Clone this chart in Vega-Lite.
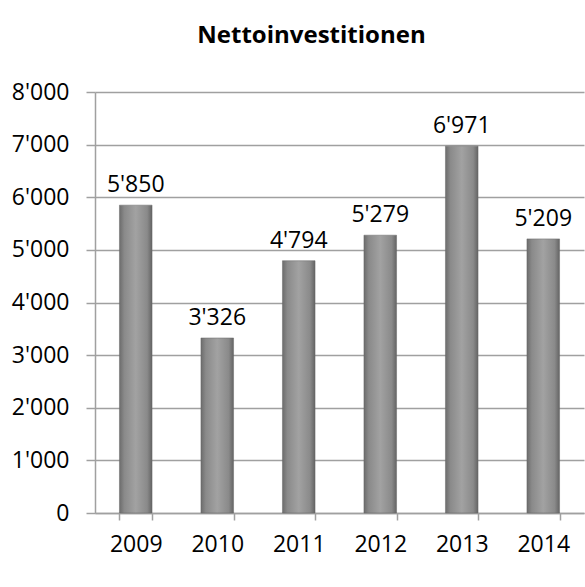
{
  "$schema": "https://vega.github.io/schema/vega-lite/v6.json",
  "autosize": "none",
  "width": 489,
  "height": 421,
  "padding": {"left": 95, "top": 92, "right": 1, "bottom": 74},
  "background": "white",
  "title": {
    "text": "Nettoinvestitionen",
    "font": "Open Sans",
    "fontSize": 24,
    "fontWeight": "bold",
    "color": "#000000",
    "anchor": "middle",
    "frame": "group",
    "baseline": "alphabetic",
    "offset": 14,
    "dx": -28
  },
  "data": {
    "values": [
      {"year": "2009", "value": 5850},
      {"year": "2010", "value": 3326},
      {"year": "2011", "value": 4794},
      {"year": "2012", "value": 5279},
      {"year": "2013", "value": 6971},
      {"year": "2014", "value": 5209}
    ]
  },
  "encoding": {
    "x": {
      "field": "year",
      "type": "nominal",
      "scale": {"paddingInner": 0.6, "paddingOuter": 0.3},
      "axis": {
        "title": null,
        "labelAngle": 0,
        "tickBand": "extent",
        "tickSize": 7,
        "labelPadding": 13,
        "labelFont": "Open Sans",
        "labelFontSize": 23,
        "labelColor": "#000000",
        "domainColor": "#a0a0a0",
        "domainWidth": 1.5,
        "tickColor": "#a0a0a0",
        "tickWidth": 1.5
      }
    },
    "y": {
      "field": "value",
      "type": "quantitative",
      "scale": {"domain": [0, 8000]},
      "axis": {
        "title": null,
        "values": [0, 1000, 2000, 3000, 4000, 5000, 6000, 7000, 8000],
        "format": ",d",
        "tickSize": 9,
        "labelPadding": 17,
        "labelFont": "Open Sans",
        "labelFontSize": 23,
        "labelColor": "#000000",
        "domainColor": "#a0a0a0",
        "domainWidth": 1.5,
        "tickColor": "#a0a0a0",
        "tickWidth": 1.5,
        "grid": true,
        "gridColor": "#a0a0a0",
        "gridWidth": 1.5
      }
    }
  },
  "layer": [
    {
      "mark": {
        "type": "bar",
        "color": {
          "gradient": "linear",
          "x1": 0, "x2": 1, "y1": 0, "y2": 0,
          "stops": [
            {"offset": 0, "color": "#6c6c6c"},
            {"offset": 0.15, "color": "#8a8a8a"},
            {"offset": 0.5, "color": "#a2a2a2"},
            {"offset": 0.85, "color": "#8a8a8a"},
            {"offset": 1, "color": "#646464"}
          ]
        },
        "stroke": "#666666",
        "strokeWidth": 0.5
      }
    },
    {
      "mark": {
        "type": "text",
        "baseline": "alphabetic",
        "dy": -13,
        "font": "Open Sans",
        "fontSize": 23,
        "color": "#000000"
      },
      "encoding": {
        "text": {"field": "value", "type": "quantitative", "format": ",d"}
      }
    }
  ],
  "config": {
    "locale": {
      "number": {
        "decimal": ".",
        "thousands": "'",
        "grouping": [3],
        "currency": ["", ""]
      }
    },
    "view": {"stroke": null}
  }
}
